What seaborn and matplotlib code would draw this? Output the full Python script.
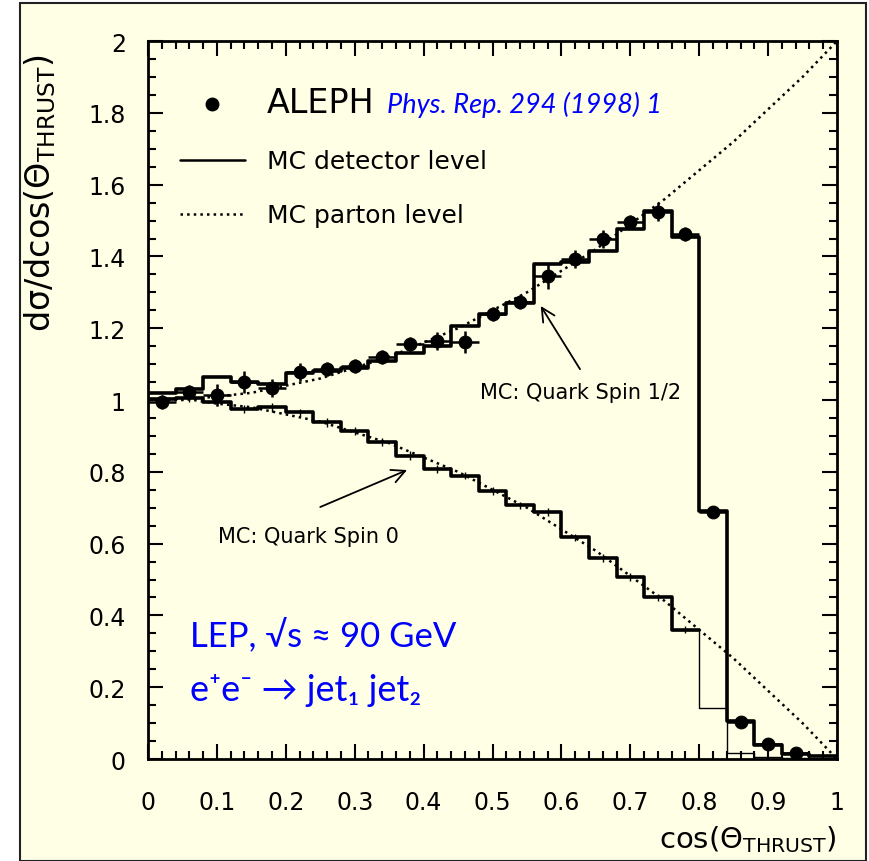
import numpy as np
import pandas as pd
import seaborn as sns
import matplotlib.pyplot as plt
from matplotlib.lines import Line2D
from matplotlib.patches import Rectangle
from matplotlib.ticker import MultipleLocator, FuncFormatter

# bin edges in cos(theta_thrust)
cos_bins = [0.00, 0.04, 0.08, 0.12, 0.16, 0.20, 0.24, 0.28, 0.32, 0.36, 0.40, 0.44, 0.48,
            0.52, 0.56, 0.60, 0.64, 0.68, 0.72, 0.76, 0.80, 0.84, 0.88, 0.92, 0.96, 1.00]

# MC detector level, quark spin 1/2 and spin 0 (one value per bin)
mc_half = [1.02, 1.03, 1.065, 1.05, 1.045, 1.075, 1.08, 1.09, 1.11, 1.13, 1.15, 1.205, 1.24,
           1.27, 1.38, 1.385, 1.415, 1.476, 1.526, 1.454, 0.69, 0.105, 0.04, 0.015, 0.008]
mc_zero = [1.003, 1.005, 0.995, 0.975, 0.98, 0.966, 0.938, 0.914, 0.883, 0.845, 0.808, 0.789,
           0.747, 0.707, 0.688, 0.618, 0.56, 0.507, 0.451, 0.36, 0.142, 0.018, 0.006, 0.004, 0.002]
mc_zero_err = [0.01, 0.01, 0.012, 0.012, 0.012, 0.01, 0.012, 0.01, 0.01, 0.012, 0.01, 0.01,
               0.012, 0.01, 0.01, 0.01, 0.012, 0.01, 0.01, 0.01]

# ALEPH data
aleph_y = [0.994, 1.022, 1.014, 1.05, 1.033, 1.078, 1.086, 1.095, 1.12, 1.156, 1.164, 1.162,
           1.24, 1.273, 1.345, 1.393, 1.448, 1.496, 1.524, 1.462, 0.688, 0.103, 0.042, 0.017]
aleph_err = [0.02, 0.02, 0.03, 0.03, 0.025, 0.025, 0.02, 0.02, 0.02, 0.02, 0.025, 0.03,
             0.02, 0.02, 0.035, 0.025, 0.025, 0.02, 0.025, 0.02, 0.015, 0.01, 0.01, 0.008]

# MC parton level curves
parton_x = [0.0, 0.05, 0.1, 0.15, 0.2, 0.25, 0.3, 0.35, 0.4, 0.45, 0.5,
            0.55, 0.6, 0.65, 0.7, 0.75, 0.8, 0.85, 0.9, 0.95, 1.0]
parton_half = [1.00, 1.00, 1.01, 1.02, 1.04, 1.06, 1.09, 1.12, 1.16, 1.20, 1.25,
               1.30, 1.36, 1.42, 1.49, 1.56, 1.64, 1.72, 1.81, 1.90, 2.00]
parton_zero = [1.00, 1.005, 0.99, 0.98, 0.96, 0.94, 0.91, 0.88, 0.84, 0.80, 0.75,
               0.70, 0.64, 0.58, 0.51, 0.44, 0.36, 0.28, 0.19, 0.10, 0.00]

centers = [(a + b) / 2 for a, b in zip(cos_bins[:-1], cos_bins[1:])]
parton = pd.DataFrame({'cos': parton_x, 'half': parton_half, 'zero': parton_zero})

cream = '#FFFFE6'
blue_font = ['Lato', 'DejaVu Sans']

sns.set_style('ticks')
plt.rcParams['font.family'] = ['DejaVu Sans']
plt.rcParams['text.color'] = 'black'
plt.rcParams['axes.labelcolor'] = 'black'

fig = plt.figure(figsize=(8.69, 8.62), dpi=100)
fig.patch.set_facecolor('white')
fig.add_artist(Rectangle((20 / 869, 0), 846 / 869, 858 / 862, transform=fig.transFigure,
                         facecolor=cream, edgecolor='#222222', lw=1.5, zorder=-10))
ax = fig.add_axes([0.1703, 0.1183, 0.7929, 0.8329])
ax.set_facecolor(cream)

# MC detector level histograms
sns.histplot(x=centers, weights=mc_half, bins=cos_bins, element='step', fill=False,
             color='black', linewidth=2.6, ax=ax)
sns.histplot(x=centers[:20], weights=mc_zero[:20], bins=cos_bins[:21], element='step',
             fill=False, color='black', linewidth=2.6, ax=ax)
sns.histplot(x=centers[19:], weights=mc_zero[19:], bins=cos_bins[19:], element='step',
             fill=False, color='black', linewidth=1.0, ax=ax)
ax.errorbar(centers[:20], mc_zero[:20], yerr=mc_zero_err, fmt='none', ecolor='black', elinewidth=1.0)

# parton level
sns.lineplot(data=parton, x='cos', y='half', color='black', linestyle=':', linewidth=1.8, ax=ax)
sns.lineplot(data=parton, x='cos', y='zero', color='black', linestyle=':', linewidth=1.8, ax=ax)

# data
ax.errorbar(centers[:24], aleph_y, xerr=0.02, yerr=aleph_err, fmt='none', ecolor='black',
            elinewidth=1.8, zorder=4)
sns.scatterplot(x=centers[:24], y=aleph_y, marker='o', s=85, color='black', edgecolor='black',
                ax=ax, zorder=5)

ax.set_xlim(0, 1)
ax.set_ylim(0, 2)
ax.xaxis.set_major_locator(MultipleLocator(0.1))
ax.xaxis.set_minor_locator(MultipleLocator(0.02))
ax.yaxis.set_major_locator(MultipleLocator(0.2))
ax.yaxis.set_minor_locator(MultipleLocator(0.05))
fmt = FuncFormatter(lambda v, p: '%g' % round(v, 2))
ax.xaxis.set_major_formatter(fmt)
ax.yaxis.set_major_formatter(fmt)
ax.tick_params(which='both', direction='in', top=True, right=True, width=1.5, colors='black',
               labelsize=17)
ax.tick_params(which='major', length=11)
ax.tick_params(which='minor', length=6)
ax.tick_params(axis='y', pad=16)
ax.tick_params(axis='x', pad=22)
for s in ax.spines.values():
    s.set_linewidth(2)
    s.set_color('black')

ax.set_ylabel('dσ/dcos(Θ$_{\\mathrm{THRUST}}$)', fontsize=24)
ax.yaxis.set_label_coords(-0.13, 0.79)
ax.set_xlabel('cos(Θ$_{\\mathrm{THRUST}}$)', fontsize=21, loc='right')
ax.xaxis.set_label_coords(1.0, -0.09)

handles = [Line2D([], [], marker='o', ls='none', color='black', markersize=9),
           Line2D([], [], color='black', lw=1.8),
           Line2D([], [], color='black', lw=1.8, ls=':')]
leg = ax.legend(handles, ['ALEPH', 'MC detector level', 'MC parton level'], loc='upper left',
                bbox_to_anchor=(0.046, 0.937), frameon=False, fontsize=18, handlelength=2.6,
                handletextpad=0.9, labelspacing=1.2, borderpad=0, borderaxespad=0)
leg.get_texts()[0].set_fontsize(24)

ax.text(0.347, 1.825, 'Phys. Rep. 294 (1998) 1', color='blue', style='italic', fontsize=19.5,
        family=blue_font, va='center')
ax.text(0.061, 0.348, 'LEP, √s ≈ 90 GeV', color='blue', fontsize=25, family=blue_font, va='center')
ax.text(0.061, 0.195, 'e⁺e⁻ → jet₁ jet₂', color='blue', fontsize=26, family=blue_font, va='center')

ax.text(0.482, 1.022, 'MC: Quark Spin 1/2', fontsize=15, va='center')
ax.text(0.102, 0.621, 'MC: Quark Spin 0', fontsize=15, va='center')
arrow = dict(arrowstyle='->', lw=1.3, color='black', mutation_scale=24, shrinkA=0, shrinkB=0)
ax.annotate('', xy=(0.570, 1.262), xytext=(0.627, 1.086), arrowprops=arrow)
ax.annotate('', xy=(0.376, 0.805), xytext=(0.250, 0.702), arrowprops=arrow)

fig.savefig('out.png', dpi=100, facecolor=fig.get_facecolor())
